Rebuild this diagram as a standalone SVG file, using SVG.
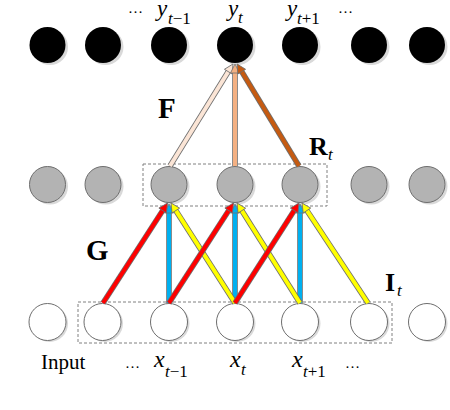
<svg xmlns="http://www.w3.org/2000/svg" width="450" height="410" viewBox="0 0 450 410">
<style>
.sh{fill:#d9d9d9}
.blk{fill:#000}
.gry{fill:#b3b3b3;stroke:#6e6e6e;stroke-width:1}
.wht{fill:#fff;stroke:#6e6e6e;stroke-width:1}
.box{fill:none;stroke:#808080;stroke-width:1;stroke-dasharray:3,2}
.ol{stroke:#6e6e6e;stroke-width:5.6;stroke-linecap:butt}
.ln{stroke-width:4;stroke-linecap:butt}
.t{font-family:"Liberation Serif","Times New Roman",serif;fill:#000}
.b{font-weight:bold}
.i{font-style:italic}
</style>
<defs>
<marker id="aRed" markerUnits="userSpaceOnUse" markerWidth="12" markerHeight="12" refX="1" refY="5" orient="auto" overflow="visible"><path d="M0,0.5 L9,5 L0,9.5 z" fill="#ff0000" stroke="#6e6e6e" stroke-width="0.8"/></marker>
<marker id="aYel" markerUnits="userSpaceOnUse" markerWidth="12" markerHeight="12" refX="1" refY="5" orient="auto" overflow="visible"><path d="M0,0.5 L9,5 L0,9.5 z" fill="#ffff00" stroke="#6e6e6e" stroke-width="0.8"/></marker>
<marker id="aBlu" markerUnits="userSpaceOnUse" markerWidth="12" markerHeight="12" refX="1" refY="5" orient="auto" overflow="visible"><path d="M0,0.5 L9,5 L0,9.5 z" fill="#00b0f0" stroke="#6e6e6e" stroke-width="0.8"/></marker>
<marker id="aCrm" markerUnits="userSpaceOnUse" markerWidth="12" markerHeight="12" refX="1" refY="5" orient="auto" overflow="visible"><path d="M0,0.5 L9,5 L0,9.5 z" fill="#fbe5d6" stroke="#6e6e6e" stroke-width="0.8"/></marker>
<marker id="aPch" markerUnits="userSpaceOnUse" markerWidth="12" markerHeight="12" refX="1" refY="5" orient="auto" overflow="visible"><path d="M0,0.5 L9,5 L0,9.5 z" fill="#f4b183" stroke="#6e6e6e" stroke-width="0.8"/></marker>
<marker id="aOrg" markerUnits="userSpaceOnUse" markerWidth="12" markerHeight="12" refX="1" refY="5" orient="auto" overflow="visible"><path d="M0,0.5 L9,5 L0,9.5 z" fill="#c55a11" stroke="#6e6e6e" stroke-width="0.8"/></marker>
</defs>

<g id="boxes">
<rect id="Rt-box" class="box" x="143" y="164" width="184" height="42"/>
<rect id="It-box" class="box" x="78" y="302" width="314" height="41"/>
</g>

<g id="output-layer">
<g id="y1"><circle class="sh" cx="50" cy="47" r="18"/><circle class="blk" cx="47.5" cy="45" r="18"/></g>
<g id="y2"><circle class="sh" cx="105.5" cy="47" r="18"/><circle class="blk" cx="103" cy="45" r="18"/></g>
<g id="y3"><circle class="sh" cx="171.5" cy="47" r="18"/><circle class="blk" cx="169" cy="45" r="18"/></g>
<g id="y4"><circle class="sh" cx="237.5" cy="47" r="18"/><circle class="blk" cx="235" cy="45" r="18"/></g>
<g id="y5"><circle class="sh" cx="302.5" cy="47" r="18"/><circle class="blk" cx="300" cy="45" r="18"/></g>
<g id="y6"><circle class="sh" cx="371.5" cy="47" r="18"/><circle class="blk" cx="369" cy="45" r="18"/></g>
<g id="y7"><circle class="sh" cx="429.5" cy="47" r="18"/><circle class="blk" cx="427" cy="45" r="18"/></g>
</g>

<g id="hidden-layer">
<g id="h1"><circle class="sh" cx="50" cy="186.5" r="18"/><circle class="gry" cx="47.5" cy="184.5" r="18"/></g>
<g id="h2"><circle class="sh" cx="105.5" cy="186.5" r="18"/><circle class="gry" cx="103" cy="184.5" r="18"/></g>
<g id="h3"><circle class="sh" cx="171.5" cy="186.5" r="18"/><circle class="gry" cx="169" cy="184.5" r="18"/></g>
<g id="h4"><circle class="sh" cx="237.5" cy="186.5" r="18"/><circle class="gry" cx="235" cy="184.5" r="18"/></g>
<g id="h5"><circle class="sh" cx="302.5" cy="186.5" r="18"/><circle class="gry" cx="300" cy="184.5" r="18"/></g>
<g id="h6"><circle class="sh" cx="371.5" cy="186.5" r="18"/><circle class="gry" cx="369" cy="184.5" r="18"/></g>
<g id="h7"><circle class="sh" cx="429.5" cy="186.5" r="18"/><circle class="gry" cx="427" cy="184.5" r="18"/></g>
</g>

<g id="input-layer">
<g id="x1"><circle class="sh" cx="49.5" cy="323.5" r="18.5"/><circle class="wht" cx="47.5" cy="322" r="18.5"/></g>
<g id="x2"><circle class="sh" cx="104.5" cy="323.5" r="18.5"/><circle class="wht" cx="102.5" cy="322" r="18.5"/></g>
<g id="x3"><circle class="sh" cx="171" cy="323.5" r="18.5"/><circle class="wht" cx="169" cy="322" r="18.5"/></g>
<g id="x4"><circle class="sh" cx="237" cy="323.5" r="18.5"/><circle class="wht" cx="235" cy="322" r="18.5"/></g>
<g id="x5"><circle class="sh" cx="302" cy="323.5" r="18.5"/><circle class="wht" cx="300" cy="322" r="18.5"/></g>
<g id="x6"><circle class="sh" cx="371" cy="323.5" r="18.5"/><circle class="wht" cx="369" cy="322" r="18.5"/></g>
<g id="x7"><circle class="sh" cx="429" cy="323.5" r="18.5"/><circle class="wht" cx="427" cy="322" r="18.5"/></g>
</g>

<g id="connectors">
<!-- F -->
<line class="ol" x1="170" y1="166" x2="228.8" y2="70.8"/>
<line class="ln" stroke="#fbe5d6" x1="170" y1="166" x2="228.8" y2="70.8" marker-end="url(#aCrm)"/>
<line class="ol" x1="235" y1="166" x2="235" y2="72"/>
<line class="ln" stroke="#f4b183" x1="235" y1="166" x2="235" y2="72" marker-end="url(#aPch)"/>
<line class="ol" x1="299" y1="166" x2="241.2" y2="70.8"/>
<line class="ln" stroke="#c55a11" x1="299" y1="166" x2="241.2" y2="70.8" marker-end="url(#aOrg)"/>
<!-- blue -->
<line class="ol" x1="169" y1="303" x2="169" y2="212"/>
<line class="ln" stroke="#00b0f0" x1="169" y1="303" x2="169" y2="212" marker-end="url(#aBlu)"/>
<line class="ol" x1="235" y1="303" x2="235" y2="212"/>
<line class="ln" stroke="#00b0f0" x1="235" y1="303" x2="235" y2="212" marker-end="url(#aBlu)"/>
<line class="ol" x1="300" y1="303" x2="300" y2="212"/>
<line class="ln" stroke="#00b0f0" x1="300" y1="303" x2="300" y2="212" marker-end="url(#aBlu)"/>
<!-- yellow -->
<line class="ol" x1="235" y1="303" x2="175.3" y2="209.7"/>
<line class="ln" stroke="#ffff00" x1="235" y1="303" x2="175.3" y2="209.7" marker-end="url(#aYel)"/>
<line class="ol" x1="300" y1="303" x2="241.3" y2="209.8"/>
<line class="ln" stroke="#ffff00" x1="300" y1="303" x2="241.3" y2="209.8" marker-end="url(#aYel)"/>
<line class="ol" x1="368" y1="303" x2="306.4" y2="209.7"/>
<line class="ln" stroke="#ffff00" x1="368" y1="303" x2="306.4" y2="209.7" marker-end="url(#aYel)"/>
<!-- red -->
<line class="ol" x1="103" y1="303" x2="163.2" y2="209.7"/>
<line class="ln" stroke="#ff0000" x1="103" y1="303" x2="163.2" y2="209.7" marker-end="url(#aRed)"/>
<line class="ol" x1="169" y1="303" x2="229.2" y2="209.7"/>
<line class="ln" stroke="#ff0000" x1="169" y1="303" x2="229.2" y2="209.7" marker-end="url(#aRed)"/>
<line class="ol" x1="235" y1="303" x2="294.7" y2="209.7"/>
<line class="ln" stroke="#ff0000" x1="235" y1="303" x2="294.7" y2="209.7" marker-end="url(#aRed)"/>
</g>

<g id="labels">
<text class="t" x="128" y="13" font-size="15">…</text>
<text class="t i" x="157" y="16" font-size="23">y</text>
<text class="t" x="168" y="24" font-size="17"><tspan class="i">t</tspan>−1</text>
<text class="t i" x="228" y="16" font-size="23">y</text>
<text class="t i" x="238" y="23" font-size="17">t</text>
<text class="t i" x="287" y="16" font-size="23">y</text>
<text class="t" x="297" y="24" font-size="17"><tspan class="i">t</tspan>+1</text>
<text class="t" x="338" y="13" font-size="15">…</text>

<text class="t b" x="158" y="118" font-size="29">F</text>
<text class="t b" x="309" y="155" font-size="26">R</text>
<text class="t i" x="328" y="160" font-size="17">t</text>
<text class="t b" x="86" y="260" font-size="29">G</text>
<text class="t b" x="385" y="291" font-size="26">I</text>
<text class="t i" x="397" y="296" font-size="17">t</text>

<text class="t" x="41" y="369" font-size="21">Input</text>
<text class="t" x="125" y="368" font-size="15">…</text>
<text class="t i" x="154" y="367" font-size="24">x</text>
<text class="t" x="165" y="377" font-size="17"><tspan class="i">t</tspan>−1</text>
<text class="t i" x="230" y="367" font-size="24">x</text>
<text class="t i" x="241" y="375" font-size="17">t</text>
<text class="t i" x="292" y="367" font-size="24">x</text>
<text class="t" x="303" y="377" font-size="17"><tspan class="i">t</tspan>+1</text>
<text class="t" x="345" y="368" font-size="15">…</text>
</g>
</svg>
